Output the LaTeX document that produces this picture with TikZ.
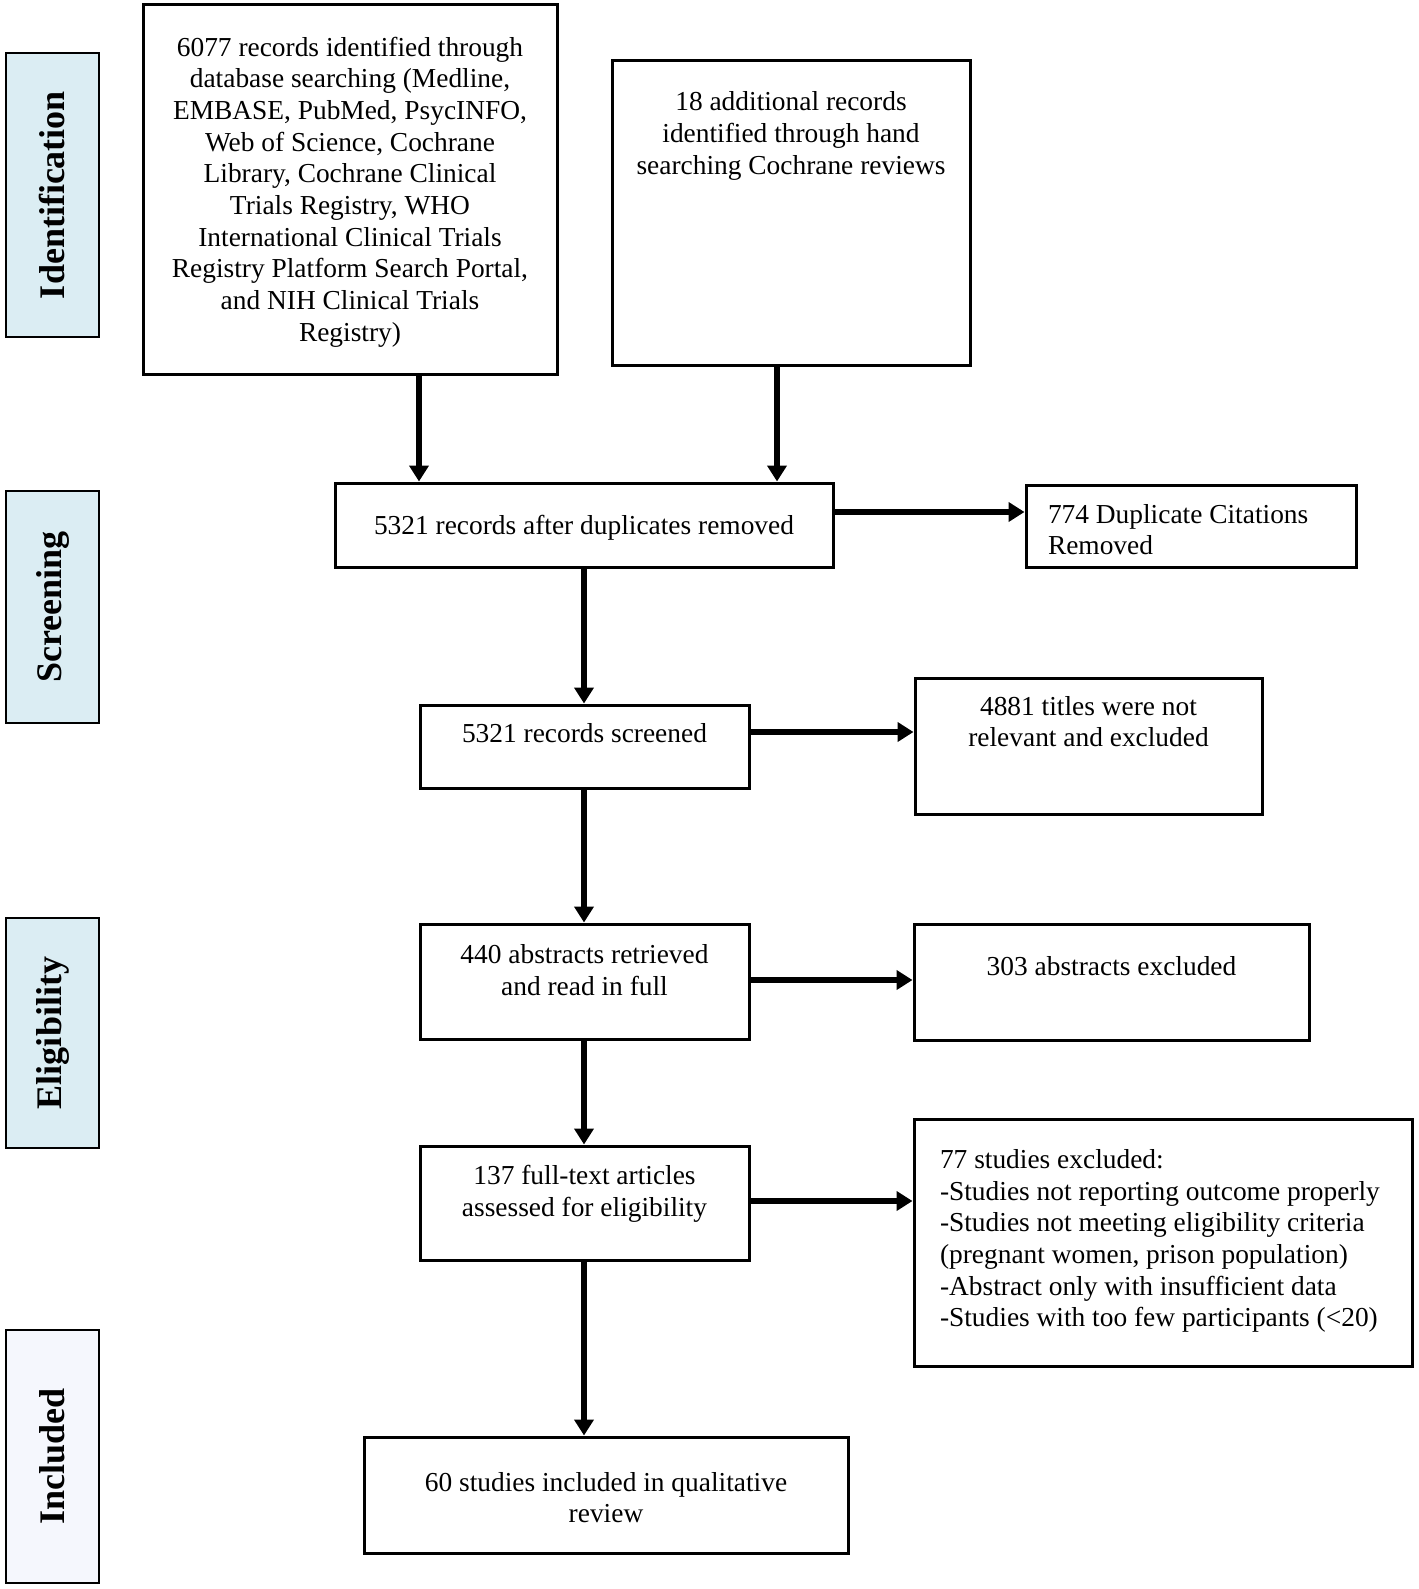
\documentclass[tikz,border=0pt]{standalone}
\usepackage{fontspec}
\setmainfont{Liberation Serif}
\usetikzlibrary{arrows.meta}
\newcommand\bodyf{\fontsize{13.7pt}{15.85pt}\selectfont}
\begin{document}
\begin{tikzpicture}[x={(0.5pt,0)},y={(0,-0.5pt)},
  box/.style={draw, line width=1.5pt, inner sep=0pt, font=\bodyf},
  side/.style={draw, line width=1.2pt, fill=sideblue, inner sep=0pt, rotate=90, font=\fontsize{18pt}{20pt}\selectfont\bfseries},
  arr/.style={line width=2.6pt, -{Triangle[length=8pt,width=9.5pt]}}]
\definecolor{sideblue}{HTML}{DBEDF3}
\useasboundingbox (0,0) rectangle (1418,1589);
% side labels
\node[side, minimum width=142pt, minimum height=46.5pt] (s1) at (52.5,195) {Identification};
\node[side, minimum width=116pt, minimum height=46.5pt] (s2) at (52.5,607) {Screening};
\node[side, minimum width=115pt, minimum height=46.5pt] (s3) at (52.5,1033) {Eligibility};
\node[side, minimum width=126.5pt, minimum height=46.5pt, fill=sideblue!85!blue!15] (s4) at (52.5,1456.5) {Included};
% boxes
\node[box] (A) at (350,189.5) {\parbox[c][184.5pt][c]{207pt}{\centering\vspace*{2.5pt}
6077 records identified through\\
database searching (Medline,\\
EMBASE, PubMed, PsycINFO,\\
Web of Science, Cochrane\\
Library, Cochrane Clinical\\
Trials Registry, WHO\\
International Clinical Trials\\
Registry Platform Search Portal,\\
and NIH Clinical Trials\\
Registry)}};
\node[box] (B) at (791,213) {\parbox[c][152pt][t]{179pt}{\centering\vspace*{13.8pt}\strut
18 additional records\\
identified through hand\\
searching Cochrane reviews}};
\node[box] (C) at (584,525) {\parbox[c][42pt][c]{249pt}{\centering\vspace*{2.5pt}5321 records after duplicates removed}};
\node[box] (D) at (1191,526) {\parbox[c][41pt][c]{165pt}{\raggedright\leftskip=11pt\relax\vspace*{3.5pt}774 Duplicate Citations\\ Removed}};
\node[box] (E) at (584.5,746.5) {\parbox[c][41.5pt][t]{164.5pt}{\centering\vspace*{7.8pt}\strut 5321 records screened}};
\node[box] (F) at (1088.5,746) {\parbox[c][68pt][t]{173.5pt}{\centering\vspace*{7.5pt}\strut 4881 titles were not\\ relevant and excluded}};
\node[box] (G) at (584.5,981.5) {\parbox[c][57.5pt][t]{164.5pt}{\centering\vspace*{8.6pt}\strut 440 abstracts retrieved\\ and read in full}};
\node[box] (H) at (1111.5,982) {\parbox[c][58pt][t]{197.5pt}{\centering\vspace*{14.6pt}\strut 303 abstracts excluded}};
\node[box] (I) at (584.5,1203) {\parbox[c][57pt][t]{164.5pt}{\centering\vspace*{8.1pt}\strut 137 full-text articles\\ assessed for eligibility}};
\node[box] (J) at (1163,1242.5) {\parbox[c][123.5pt][t]{249pt}{\raggedright\leftskip=13pt\relax\vspace*{13.6pt}\strut
77 studies excluded:\\
-Studies not reporting outcome properly\\
-Studies not meeting eligibility criteria\\
(pregnant women, prison population)\\
-Abstract only with insufficient data\\
-Studies with too few participants (<20)}};
\node[box] (K) at (606,1495) {\parbox[c][58pt][c]{242pt}{\centering\vspace*{2.5pt}60 studies included in qualitative\\ review}};
% arrows
\draw[arr] (A.south -| 419,0) -- (C.north -| 419,0);
\draw[arr] (B.south -| 777,0) -- (C.north -| 777,0);
\draw[arr] (C.east |- 0,512) -- (D.west |- 0,512);
\draw[arr] (C.south -| 584,0) -- (E.north -| 584,0);
\draw[arr] (E.east |- 0,732) -- (F.west |- 0,732);
\draw[arr] (E.south -| 584,0) -- (G.north -| 584,0);
\draw[arr] (G.east |- 0,980) -- (H.west |- 0,980);
\draw[arr] (G.south -| 584,0) -- (I.north -| 584,0);
\draw[arr] (I.east |- 0,1201) -- (J.west |- 0,1201);
\draw[arr] (I.south -| 584,0) -- (K.north -| 584,0);
\end{tikzpicture}
\end{document}
